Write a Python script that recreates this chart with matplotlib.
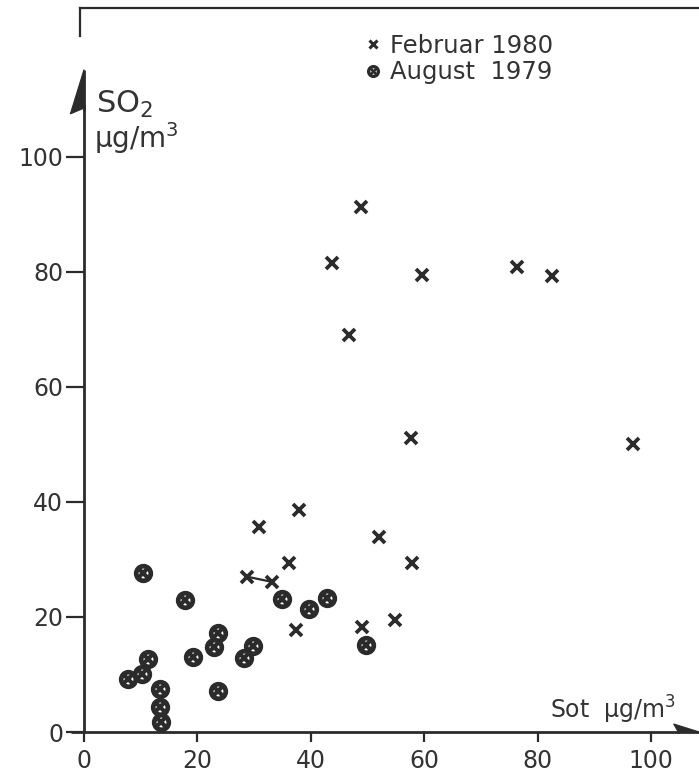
import matplotlib
matplotlib.use('Agg')
import matplotlib.pyplot as plt
from matplotlib.lines import Line2D
from matplotlib.patches import Polygon

# Februar 1980 (crosses)
feb_sot = [28.8, 33.2, 30.9, 38.0, 36.2, 52.0, 57.8, 37.4, 49.1, 54.8,
           59.6, 76.3, 82.6, 57.6, 96.8, 43.8, 48.9, 46.7]
feb_so2 = [27.0, 26.1, 35.7, 38.6, 29.4, 33.9, 29.4, 17.7, 18.3, 19.5,
           79.5, 80.9, 79.3, 51.1, 50.1, 81.6, 91.3, 69.0]

# August 1979 (circled crosses)
aug_sot = [10.4, 17.8, 23.6, 22.9, 19.3, 29.8, 28.3, 23.7, 11.3, 10.2,
           7.8, 13.4, 13.4, 13.5, 35.0, 39.6, 42.8, 49.7]
aug_so2 = [27.7, 23.0, 17.3, 14.8, 13.1, 15.0, 12.9, 7.1, 12.7, 10.1,
           9.2, 7.5, 4.3, 1.7, 23.1, 21.4, 23.3, 15.1]

x_ticks = [0, 20, 40, 60, 80, 100]
y_ticks = [0, 20, 40, 60, 80, 100]

INK = '#2b2b2b'
TXT = '#333333'
W, H = 699, 775

fig = plt.figure(figsize=(W / 100, H / 100), dpi=100)
fig.patch.set_facecolor('white')

# axes box placed so that the origin sits at (84, 732) px
x_lo, x_hi = -2.5, 108.5
y_lo, y_hi = -2.5, 115.5
px_x, px_y = 5.67, 5.75
left = 84 + x_lo * px_x
right = 84 + x_hi * px_x
bottom = 732 - y_lo * px_y
top = 732 - y_hi * px_y
ax = fig.add_axes([left / W, 1 - bottom / H, (right - left) / W, (bottom - top) / H])
ax.set_xlim(x_lo, x_hi)
ax.set_ylim(y_lo, y_hi)
ax.patch.set_alpha(0)

for side in ('top', 'right'):
    ax.spines[side].set_visible(False)
ax.spines['left'].set_position(('data', 0))
ax.spines['bottom'].set_position(('data', 0))
ax.spines['left'].set_bounds(0, 109)
ax.spines['bottom'].set_bounds(-2.3, 105)
for side in ('left', 'bottom'):
    ax.spines[side].set_linewidth(2.0)
    ax.spines[side].set_color(INK)
    ax.spines[side].set_capstyle('butt')

ax.set_xticks(x_ticks)
ax.set_yticks(y_ticks)
ax.tick_params(axis='x', direction='out', length=7, width=1.6, color=INK,
               labelsize=17, labelcolor=TXT, pad=5)
ax.tick_params(axis='y', direction='out', length=13, width=1.6, color=INK,
               labelsize=17, labelcolor=TXT, pad=2)

# half arrowheads at the ends of both axes
ax.add_patch(Polygon([[0, 115.2], [-2.4, 107.5], [0, 108.5]], closed=True,
                     facecolor=INK, edgecolor=INK, lw=0.8, clip_on=False))
ax.plot([0, 0], [108, 115.2], color=INK, lw=2.0, clip_on=False, solid_capstyle='butt')
ax.add_patch(Polygon([[104.0, 1.4], [108.5, 0], [104.8, 0]], closed=True,
                     facecolor=INK, edgecolor=INK, lw=0.8, clip_on=False))
ax.plot([104.5, 108.5], [0, 0], color=INK, lw=2.0, clip_on=False, solid_capstyle='butt')

# circled crosses
ax.plot(aug_sot, aug_so2, linestyle='none', marker='o', markersize=10.5,
        markerfacecolor='white', markeredgecolor=INK, markeredgewidth=3.4, clip_on=False)
ax.plot(aug_sot, aug_so2, linestyle='none', marker='x', markersize=7.5,
        markeredgecolor=INK, markeredgewidth=3.0, clip_on=False)

# crosses, with the small connector between the first two
ax.plot(feb_sot[:2], feb_so2[:2], color=INK, lw=1.6)
ax.plot(feb_sot, feb_so2, linestyle='none', marker='x', markersize=9,
        markeredgecolor=INK, markeredgewidth=2.7)

# axis titles
fig.text(96 / W, 1 - 113 / H, 'SO$_2$', fontsize=22, color=TXT, va='baseline')
fig.text(94 / W, 1 - 148 / H, '\u00b5g/m$^3$', fontsize=20, color=TXT, va='baseline')
fig.text(676 / W, 1 - 719 / H, 'Sot  \u00b5g/m$^3$', fontsize=17, color=TXT,
         ha='right', va='baseline')

# legend
h_feb = Line2D([], [], linestyle='none', marker='x', markersize=6,
               markeredgecolor=INK, markeredgewidth=2.2)
h_aug_o = Line2D([], [], linestyle='none', marker='o', markersize=7,
                 markerfacecolor='white', markeredgecolor=INK, markeredgewidth=2.4)
h_aug_x = Line2D([], [], linestyle='none', marker='x', markersize=4.5,
                 markeredgecolor=INK, markeredgewidth=1.8)
fig.legend([h_feb, (h_aug_o, h_aug_x)], ['Februar 1980', 'August  1979'],
           loc='upper left', bbox_to_anchor=(364 / W, 1 - 34 / H),
           frameon=False, fontsize=17.5, labelcolor=TXT,
           handlelength=0.7, handletextpad=0.35, labelspacing=0.1,
           borderpad=0, borderaxespad=0)

# panel frame at the top
fig.add_artist(Line2D([80 / W, 1.0], [1 - 8 / H, 1 - 8 / H], color=INK, lw=1.6))
fig.add_artist(Line2D([80 / W, 80 / W], [1 - 8 / H, 1 - 36 / H], color=INK, lw=1.6))

fig.savefig('out.png', dpi=100, facecolor='white')
